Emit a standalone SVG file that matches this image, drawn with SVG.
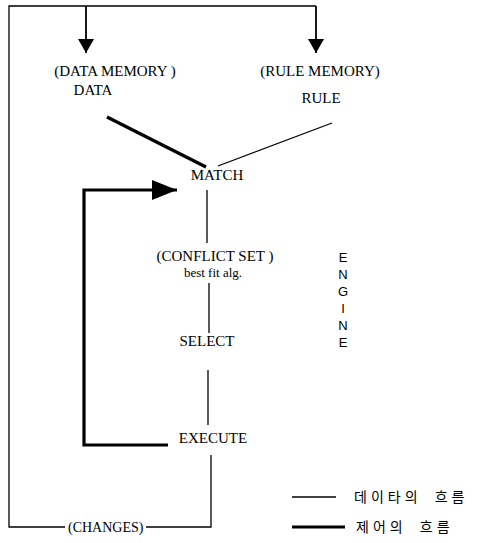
<svg xmlns="http://www.w3.org/2000/svg" width="490" height="543" viewBox="0 0 490 543">
<defs>
<style>
text{font-family:"Liberation Serif","Times New Roman",serif;font-size:15px;fill:#000}
.c{text-anchor:middle}
.s{font-family:"Liberation Sans",Arial,sans-serif;font-size:13px}
.k{font-family:"Noto Sans CJK KR",sans-serif;font-size:14px;letter-spacing:4px;word-spacing:6px}
.thin{stroke:#000;stroke-width:1.3;fill:none}
.mid{stroke:#000;stroke-width:1.8;fill:none}
.thick{stroke:#000;stroke-width:3.2;fill:none}
</style>
<marker id="ah" markerWidth="14" markerHeight="16" refX="14" refY="8" orient="auto" markerUnits="userSpaceOnUse">
<path d="M0,0 L14,8 L0,16 Z" fill="#000"/>
</marker>
<marker id="ab" markerWidth="25" markerHeight="20" refX="25" refY="10" orient="auto" markerUnits="userSpaceOnUse">
<path d="M0,0 L25,10 L0,20 Z" fill="#000"/>
</marker>
</defs>
<rect width="490" height="543" fill="#fff"/>
<g id="connectors">
<path class="thin" d="M211,455 V527 H146"/>
<path class="thin" d="M65,527 H9 V6 H316"/>
<line class="mid" x1="86" y1="6" x2="86" y2="53" marker-end="url(#ah)"/>
<line class="mid" x1="316" y1="6" x2="316" y2="53" marker-end="url(#ah)"/>
<line class="thick" x1="107" y1="117" x2="206" y2="167"/>
<line class="thin" x1="332" y1="123" x2="218" y2="166"/>
<path class="thick" d="M168,445 H84 V190 H177" marker-end="url(#ab)"/>
<line class="thin" x1="207" y1="190" x2="207" y2="243"/>
<line class="thin" x1="209" y1="283" x2="209" y2="333"/>
<line class="thin" x1="208" y1="370" x2="208" y2="425"/>
</g>
<g id="data-memory">
<text class="c" x="115" y="76">(DATA MEMORY )</text>
<text class="c" x="93" y="95">DATA</text>
</g>
<g id="rule-memory">
<text class="c" x="320" y="76">(RULE MEMORY)</text>
<text class="c" x="321" y="103">RULE</text>
</g>
<g id="match"><text class="c" x="217" y="180">MATCH</text></g>
<g id="conflict-set">
<text class="c" x="215" y="261">(CONFLICT SET )</text>
<text class="c" x="213" y="277" style="font-size:13px">best fit alg.</text>
</g>
<g id="select"><text class="c" x="207" y="346">SELECT</text></g>
<g id="execute"><text class="c" x="213" y="443">EXECUTE</text></g>
<g id="changes"><text x="68" y="532" style="font-size:14px">(CHANGES)</text></g>
<g id="engine">
<text class="c s" x="343" y="262">E</text>
<text class="c s" x="343" y="279">N</text>
<text class="c s" x="343" y="296">G</text>
<text class="c s" x="343" y="313">I</text>
<text class="c s" x="343" y="330">N</text>
<text class="c s" x="343" y="347">E</text>
</g>
<g id="legend">
<line class="thin" x1="292" y1="497" x2="336" y2="497"/>
<text class="k" x="354" y="502">데이타의 흐름</text>
<line class="thick" x1="292" y1="527" x2="345" y2="527"/>
<text class="k" x="356" y="532">제어의 흐름</text>
</g>
</svg>
